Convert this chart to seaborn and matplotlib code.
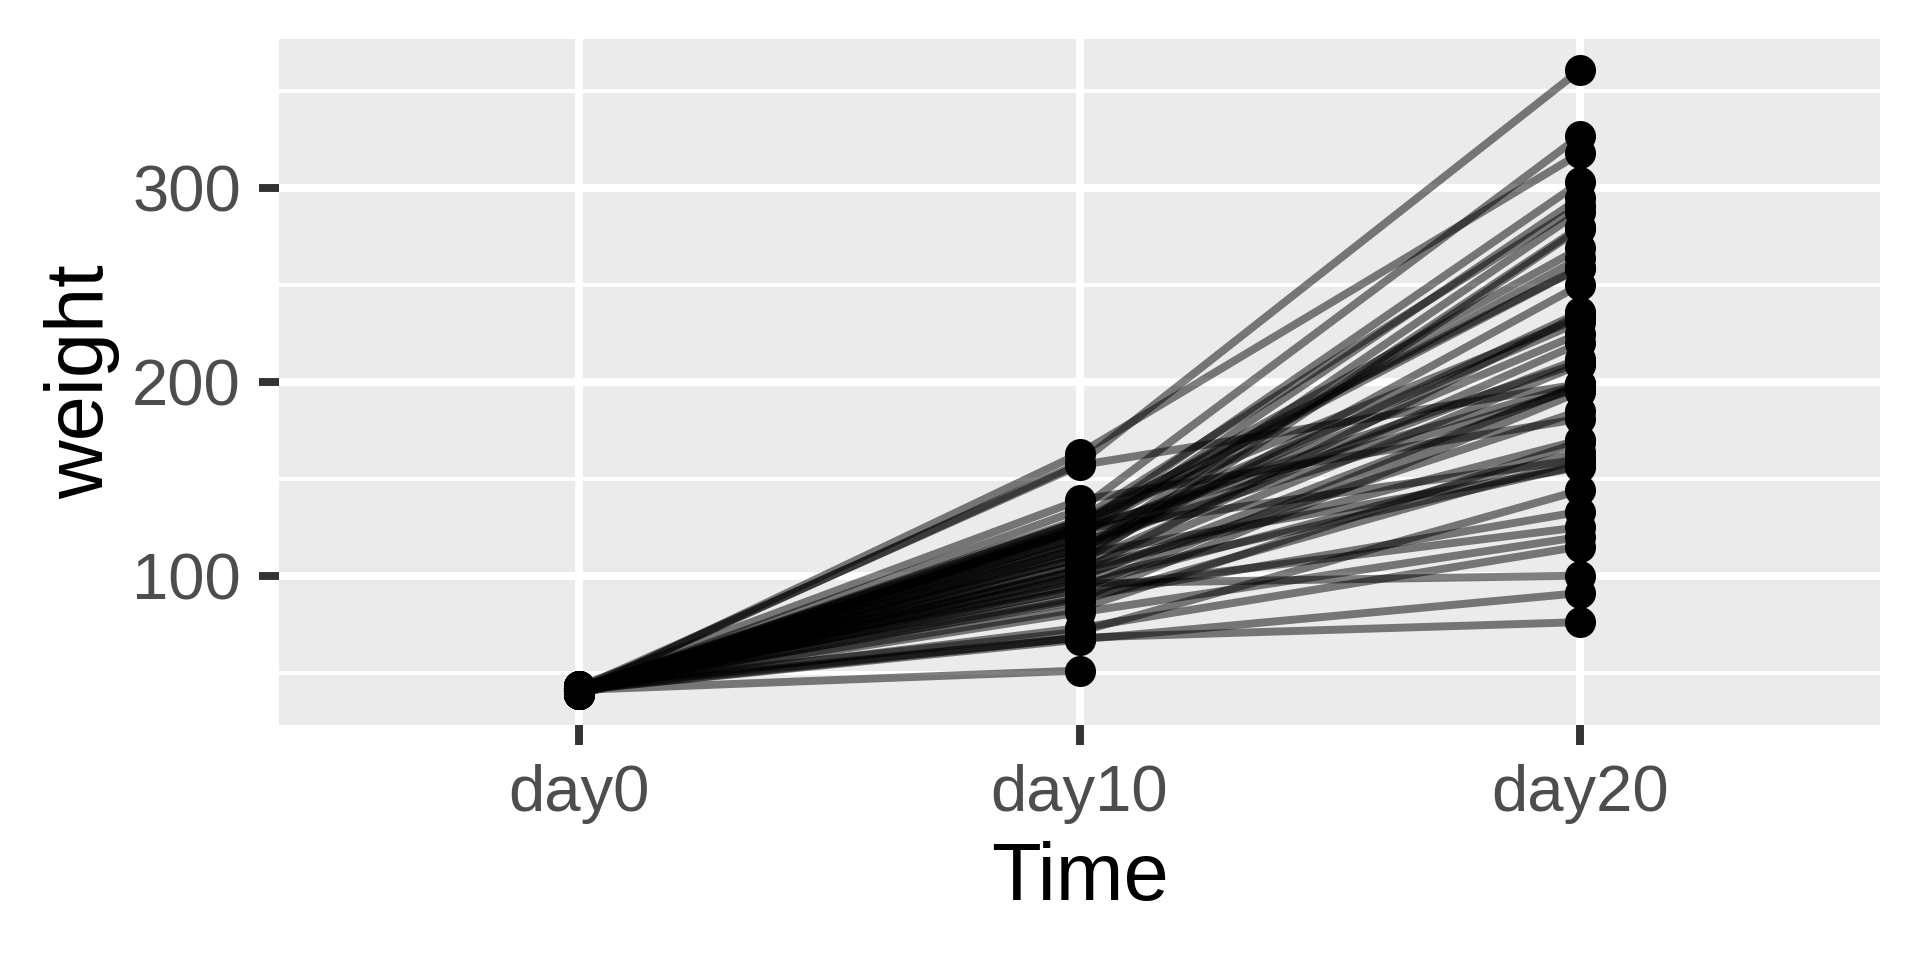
import pandas as pd
import matplotlib
matplotlib.use("Agg")
import matplotlib.pyplot as plt
import numpy as np
import seaborn as sns

# ChickWeight: weight at day 0, 10 and 20 for each chick (nan = chick gone)
chicks = list(range(1, 51))
day0 = [42, 40, 43, 42, 41, 41, 41, 42, 42, 41, 43, 41, 41, 41, 41, 41, 42, 39, 43, 41,
        40, 41, 43, 42, 40, 42, 39, 39, 39, 42,
        42, 41, 39, 41, 41, 39, 41, 41, 42, 41,
        42, 42, 42, 42, 41, 40, 41, 39, 40, 41]
day10 = [93, 103, 99, 87, 106, 124, 112, 93, 96, 81, 139, 88, 67, 128, 68, 51, 89, np.nan, 71, 73,
         163, 95, 103, 68, 124, 114, 100, 114, 106, 98,
         102, 129, 111, 134, 158, 116, 83, 109, 109, 120,
         124, 126, 157, 118, 117, 120, 123, 125, 128, 122]
day20 = [199, 209, 198, 160, 220, 160, 288, 125, 100, 120, 181, 195, 91, 259, np.nan, np.nan, 133, np.nan, 144, 115,
         318, 164, 170, 76, 259, 236, 185, 212, 279, 157,
         235, 291, 156, 327, 361, 225, 169, 280, 250, 295,
         199, 269, 199, np.nan, 197, 231, 210, 303, 233, 264]
times = ["day0", "day10", "day20"]


def main():
    wide = pd.DataFrame({"Chick": chicks, "day0": day0, "day10": day10, "day20": day20})
    df = wide.melt(id_vars="Chick", value_vars=times, var_name="Time",
                   value_name="weight").dropna()

    plt.rcParams["font.family"] = ["Liberation Sans", "DejaVu Sans"]
    fig, ax = plt.subplots(figsize=(19.2, 9.6), dpi=100)
    fig.subplots_adjust(left=0.1453, right=0.9792, bottom=0.2448, top=0.9594)

    sns.lineplot(data=df, x="Time", y="weight", units="Chick", estimator=None,
                 color="black", alpha=0.5, linewidth=5.7, legend=False, ax=ax)
    sns.scatterplot(data=df, x="Time", y="weight", color="black", s=500,
                    linewidth=0, legend=False, zorder=3, ax=ax)

    # ggplot-like grey panel
    ax.set_facecolor("#EBEBEB")
    for s in ax.spines.values():
        s.set_visible(False)
    ax.set_axisbelow(True)
    ax.set_xlim(-0.6, 2.6)
    ax.set_ylim(22.9, 377.1)
    ax.set_yticks([100, 200, 300])
    ax.set_yticks([50, 150, 250, 350], minor=True)
    ax.grid(which="major", color="white", linewidth=5.7)
    ax.grid(which="minor", axis="y", color="white", linewidth=2.8)
    ax.tick_params(which="major", length=14.4, width=5.7, color="#333333",
                   labelsize=47, labelcolor="#4D4D4D")
    ax.tick_params(which="minor", length=0)
    ax.tick_params(axis="x", pad=14)
    ax.tick_params(axis="y", pad=13)
    ax.set_xlabel("Time", fontsize=58.5, color="black", labelpad=12)
    ax.set_ylabel("weight", fontsize=58.5, color="black", labelpad=9)

    fig.savefig("out.png", dpi=100)


if __name__ == "__main__":
    main()
